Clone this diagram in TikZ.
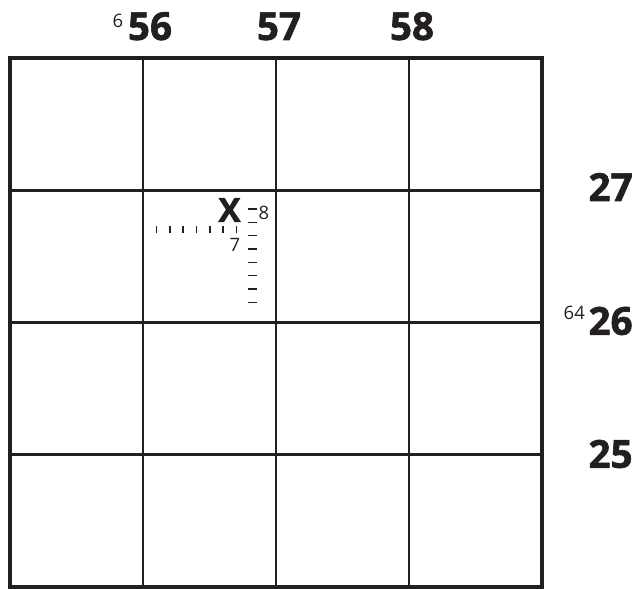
\documentclass[tikz,border=0pt]{standalone}
\usepackage{fontspec}
\setmainfont{Open Sans}
\newfontfamily\heavyfont[BoldFeatures={FakeBold=1.6}]{Open Sans}
\usetikzlibrary{positioning}
\definecolor{MapInk}{HTML}{231F20}
\tikzset{
  frameline/.style={draw=MapInk, line width=2.4pt},
  gridline/.style={draw=MapInk, line width=1.7pt},
  tickmark/.style={draw=MapInk, line width=0.9pt},
  gridnum/.style={text=MapInk, font=\fontsize{22}{22}\selectfont\heavyfont\bfseries, inner sep=0pt},
  supnum/.style={text=MapInk, font=\fontsize{10.5}{10.5}\selectfont, inner sep=0pt},
  marker/.style={text=MapInk, font=\fontsize{19}{19}\selectfont\heavyfont\bfseries, inner sep=0pt}
}
\begin{document}
\begin{tikzpicture}
\useasboundingbox (-0.2,-0.04) rectangle (12.5,11.74);
\foreach \i in {1,2,3} {
  \draw[gridline] (2.66*\i,0) -- (2.66*\i,10.58);
  \draw[gridline] (0,2.645*\i) -- (10.64,2.645*\i);
}
\draw[frameline] (0,0) rectangle (10.64,10.58);
\node[gridnum, anchor=base] (e56) at (2.8,10.94) {56};
\node[gridnum, anchor=base] (e57) at (5.38,10.94) {57};
\node[gridnum, anchor=base] (e58) at (8.04,10.94) {58};
\node[supnum, anchor=base east] (e6) at ([xshift=-0.8mm, yshift=2.4mm]e56.base west) {6};
\node[gridnum, anchor=east] (n27) at (12.46,8.0) {27};
\node[gridnum, anchor=east] (n26) at (12.46,5.32) {26};
\node[gridnum, anchor=east] (n25) at (12.46,2.66) {25};
\node[supnum, anchor=base east] (n64) at ([xshift=-0.6mm, yshift=3mm]n26.base west) {64};
\node[marker] (spot) at (4.39,7.54) {X};
\foreach \k in {0,...,6}
  \draw[tickmark] (2.93+0.2667*\k,7.07) -- ++(0,0.14);
\foreach \j in {0,...,7}
  \draw[tickmark] (4.76,7.56-0.2667*\j) -- ++(0.18,0);
\node[supnum] (n8) at (5.08,7.48) {8};
\node[supnum] (e7) at (4.5,6.84) {7};
\end{tikzpicture}
\end{document}
